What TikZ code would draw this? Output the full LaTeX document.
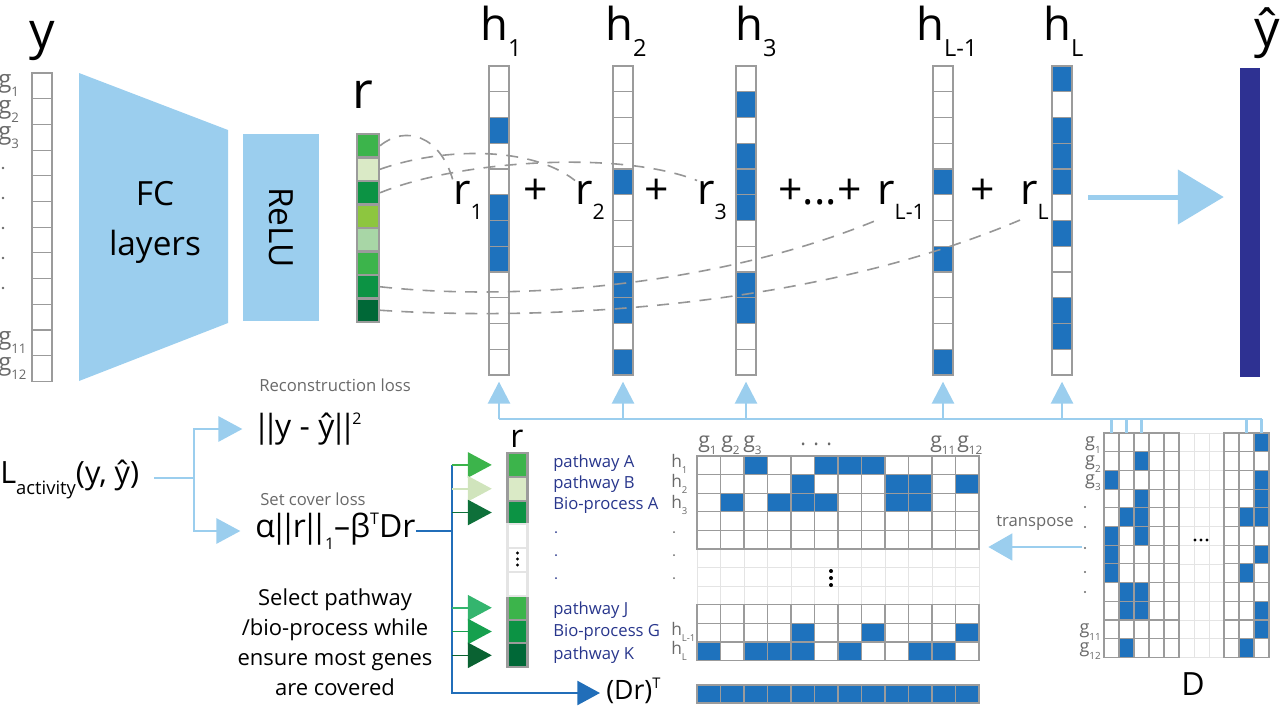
\documentclass[tikz,border=0pt]{standalone}
\usepackage{fontspec}
\usepackage{graphicx}
\setmainfont{Open Sans}
\usetikzlibrary{arrows.meta}

\definecolor{lblue}{RGB}{155,206,238}
\definecolor{cblue}{RGB}{30,114,189}
\definecolor{dblue}{RGB}{33,110,185}
\definecolor{navy}{RGB}{46,49,146}
\definecolor{pnavy}{RGB}{40,54,140}
\definecolor{cgray}{RGB}{155,155,155}
\definecolor{fgray}{RGB}{228,228,228}
\definecolor{tgray}{RGB}{105,105,105}
\definecolor{dgray}{RGB}{150,150,150}
\definecolor{gA}{RGB}{60,180,75}
\definecolor{gB}{RGB}{218,234,198}
\definecolor{gC}{RGB}{12,147,68}
\definecolor{gD}{RGB}{141,198,63}
\definecolor{gE}{RGB}{168,214,166}
\definecolor{gF}{RGB}{0,104,55}
\definecolor{aB}{RGB}{208,228,188}
\definecolor{aC}{RGB}{14,112,58}
\definecolor{aD}{RGB}{52,181,110}
\definecolor{aE}{RGB}{22,160,78}
\definecolor{aF}{RGB}{10,98,50}

\newcommand{\fs}[1]{\fontsize{#1}{#1}\selectfont}
\newcommand{\lsub}[2][0.55]{\raisebox{-0.37em}{\scalebox{#1}{#2}}}
\newcommand{\lsup}[2][0.5]{\raisebox{0.42em}{\scalebox{#1}{#2}}}
\newcommand{\dbar}{\makebox[0.27em]{|}\makebox[0.29em]{|}}
\newcommand{\mcell}[3]{\filldraw[#3] ({697+23.5*(#1-1)},{456+18.6*(#2-1)}) rectangle +(23.5,18.6);}
\newcommand{\dcell}[3]{\filldraw[#3] ({1104+15*(#1-1)},{433+18.7*(#2-1)}) rectangle +(15,18.7);}

\def\hA{3,6,7,8}
\def\hB{5,9,10,12}
\def\hC{2,4,5,6,9,10}
\def\hY{5,8,12}
\def\hZ{1,3,4,5,7,10,11}

\begin{document}
\begin{tikzpicture}[x=0.75pt,y=-0.75pt]
\tikzset{
  cell/.style={draw=cgray,line width=0.8pt,fill=white,minimum width=15pt,minimum height=19.3pt,inner sep=0pt,outer sep=0pt},
  oncell/.style={fill=cblue,draw=cgray,line width=0.8pt},
  offcell/.style={fill=white,draw=cgray,line width=0.8pt},
  faint/.style={fill=white,draw=fgray,line width=0.6pt},
  rcell/.style={draw=cgray,line width=1.6pt,minimum width=16.5pt,minimum height=17.6pt,inner sep=0pt},
  brcell/.style={draw=cgray,line width=1.6pt,minimum width=15pt,minimum height=17.85pt,inner sep=0pt},
  bigl/.style={font=\fs{38},inner sep=0pt},
  hlab/.style={font=\fs{34},inner sep=0pt,anchor=base west},
  rterm/.style={font=\fs{32},inner sep=0pt,anchor=base west},
  glab/.style={font=\fs{18},text=tgray,inner sep=0pt},
  losslab/.style={font=\fs{12.5},text=tgray,inner sep=0pt,anchor=base west},
  pwy/.style={font=\fs{12.5},text=pnavy,inner sep=0pt,anchor=west},
  mixer/.style={dgray,line width=1.2pt,dash pattern=on 9pt off 7pt},
  bus/.style={lblue,line width=2pt},
  lbarrow/.style={lblue,line width=1.5pt,-{Triangle[length=18pt,width=19pt]},shorten >=11pt},
  garrow/.style={line width=1.2pt,-{Triangle[length=18pt,width=19pt]},shorten >=11pt},
  dline/.style={dblue,line width=1.8pt}
}
\useasboundingbox (0,0) rectangle (1280,708);

% input y
\node[bigl,anchor=base] (ylab) at (42,48) {y};
\foreach \k in {1,...,12}
  {\node[cell] (y\k) at (42,{73+25.7*(\k-0.5)}) {};}
\foreach \k/\t in {1/1,2/2,3/3,11/11,12/12}
  {\node[glab,anchor=west] (yg\k) at (-2,{73+25.7*(\k-0.5)}) {g\lsub{\t}};}
\foreach \d in {168,198,228,258,288}
  {\fill[tgray] (3,\d) circle (1.3);}

% encoder
\fill[lblue] (79,73) -- (228,130) -- (228,323) -- (79,381) -- cycle;
\node[font=\fontsize{25}{37.5}\selectfont,align=center] (fc) at (155,222) {FC\\layers};
\node[fill=lblue,rotate=-90,minimum width=140pt,minimum height=57pt,inner sep=0pt,font=\fs{25}] (relu) at (281,227.5) {ReLU};

% r vector
\node[bigl,anchor=base] (rlab) at (363,108) {r};
\foreach \k/\c in {1/gA,2/gB,3/gC,4/gD,5/gE,6/gA,7/gC,8/gF}
  {\node[rcell,fill=\c] (r\k) at (368,{134+23.5*(\k-0.5)}) {};}

% pathway columns h
\foreach \n/\x in {a/499,b/623,c/746,y/943,z/1062}
  {\foreach \k in {1,...,12}
    {\node[cell] (h\n\k) at (\x,{66+25.75*(\k-0.5)}) {};}}
\foreach \k in \hA {\filldraw[oncell] (ha\k.north west) rectangle (ha\k.south east);}
\foreach \k in \hB {\filldraw[oncell] (hb\k.north west) rectangle (hb\k.south east);}
\foreach \k in \hC {\filldraw[oncell] (hc\k.north west) rectangle (hc\k.south east);}
\foreach \k in \hY {\filldraw[oncell] (hy\k.north west) rectangle (hy\k.south east);}
\foreach \k in \hZ {\filldraw[oncell] (hz\k.north west) rectangle (hz\k.south east);}

\node[hlab] (hla) at (480,40) {h\lsub[0.52]{1}};
\node[hlab] (hlb) at (605,40) {h\lsub[0.52]{2}};
\node[hlab] (hlc) at (735,40) {h\lsub[0.52]{3}};
\node[hlab] (hly) at (916,40) {h\lsub[0.52]{L-1}};
\node[hlab] (hlz) at (1043,40) {h\lsub[0.52]{L}};

\node[rterm] (t1) at (453,204) {r\lsub[0.5]{1}};
\node[rterm,anchor=base] (p1) at (536,204) {+};
\node[rterm] (t2) at (575,204) {r\lsub[0.5]{2}};
\node[rterm,anchor=base] (p2) at (657,204) {+};
\node[rterm] (t3) at (697,204) {r\lsub[0.5]{3}};
\node[rterm,anchor=base] (p3) at (820,204) {+...+};
\node[rterm] (tY) at (877,204) {r\lsub[0.5]{L-1}};
\node[rterm,anchor=base] (p4) at (983,204) {+};
\node[rterm] (tZ) at (1020,204) {r\lsub[0.5]{L}};

\draw[mixer] (r1.east) .. controls (405,125) and (440,135) .. (t1.north west);
\draw[mixer] (r2.east) .. controls (440,148) and (530,145) .. (t2.north west);
\draw[mixer] (r3.east) .. controls (460,160) and (620,150) .. (t3.north west);
\draw[mixer] (r7.east) .. controls (520,302) and (720,285) .. (tY.south west);
\draw[mixer] (r8.east) .. controls (560,322) and (820,305) .. (tZ.south west);

% output
\node[fill=navy,minimum width=15pt,minimum height=231.75pt,inner sep=0pt] (yhat) at (1250,222.5) {};
\node[bigl,anchor=base west] (yhl) at (1254,46) {ŷ};
\coordinate (sumout) at (1088,197);
\draw[lblue,line width=3.75pt,-{Triangle[length=34.5pt,width=40.5pt]},shorten >=12pt] (sumout) -- (sumout -| yhat.west);

% D matrix
\foreach \c in {6,7,8} {\foreach \r in {1,...,12} {\dcell{\c}{\r}{faint}}}
\foreach \c in {1,2,3,4,5,9,10,11} {\foreach \r in {1,...,12} {\dcell{\c}{\r}{offcell}}}
\foreach \r in \hA {\dcell{1}{\r}{oncell}}
\foreach \r in \hB {\dcell{2}{\r}{oncell}}
\foreach \r in \hC {\dcell{3}{\r}{oncell}}
\foreach \r in \hY {\dcell{10}{\r}{oncell}}
\foreach \r in \hZ {\dcell{11}{\r}{oncell}}
\foreach \px in {1195,1201,1207} {\fill[black] (\px,540) circle (1.6);}
\foreach \k/\t in {1/1,2/2,3/3,11/11,12/12}
  {\node[font=\fs{13.5},text=tgray,inner sep=0pt,anchor=east] (dg\k) at (1101,{433+18.7*(\k-0.5)+3}) {g\lsub{\t}};}
\foreach \d in {507,527,548,572,592}
  {\fill[tgray] (1085,\d) circle (1.1);}
\node[font=\fs{24},anchor=base] (dlab) at (1193,695) {D};
\foreach \c in {1,2,3,10,11}
  {\coordinate (dt\c) at ({1104+15*(\c-0.5)},433);}

% bus to h columns
\coordinate (busL) at (499,419);
\draw[bus] (busL) -- (dt11 |- busL);
\foreach \c in {1,2,3,10,11}
  {\draw[bus] (dt\c |- busL) -- (dt\c);}
\foreach \n in {a,b,c,y,z}
  {\draw[bus,-{Triangle[length=16.5pt,width=16.5pt]},shorten >=5pt] (h\n12.south |- busL) -- (h\n12.south);}

% transposed matrix
\foreach \r in {6,7,8} {\foreach \c in {1,...,12} {\mcell{\c}{\r}{faint}}}
\foreach \r in {1,2,3,4,5,9,10,11} {\foreach \c in {1,...,12} {\mcell{\c}{\r}{offcell}}}
\foreach \c in \hA {\mcell{\c}{1}{oncell}}
\foreach \c in \hB {\mcell{\c}{2}{oncell}}
\foreach \c in \hC {\mcell{\c}{3}{oncell}}
\foreach \c in \hY {\mcell{\c}{10}{oncell}}
\foreach \c in \hZ {\mcell{\c}{11}{oncell}}
\foreach \py in {571,578,585} {\fill[black] (831,\py) circle (2);}
\foreach \c in {1,...,12}
  {\filldraw[oncell] ({697+23.5*(\c-1)},685) rectangle +(23.5,18);}

\foreach \n/\px/\t in {1/698/1,2/721/2,3/743/3,11/930/11,12/957/12}
  {\node[font=\fs{16},text=tgray,inner sep=0pt,anchor=base west] (mg\n) at (\px,447) {g\lsub{\t}};}
\node[font=\fs{16},text=tgray,inner sep=0pt,anchor=base west] (mgd) at (800,445) {. . .};
\foreach \n/\py/\t in {1/464/1,2/484/2,3/505/3,y/632/{L-1},z/651/L}
  {\node[font=\fs{13},text=tgray,inner sep=0pt,anchor=west] (mh\n) at (671,\py) {h\lsub{\t}};}
\foreach \d in {532,555,578}
  {\fill[tgray] (674,\d) circle (1);}

\coordinate (mright) at (979,547);
\coordinate (tfrom) at (1082,547);
\draw[lblue,line width=2.2pt,-{Triangle[length=18pt,width=20pt]},shorten >=7pt] (tfrom) -- (mright);
\node[font=\fs{12.5},text=tgray,inner sep=0pt] (tr) at (1035,523) {transpose};

% losses
\node[font=\fs{23},inner sep=0pt,anchor=base west] (lact) at (0,483) {L\lsub[0.6]{activity}(y, ŷ)};
\coordinate (split) at (194,478);
\node[losslab] (recl) at (259,391) {Reconstruction loss};
\node[font=\fs{24},inner sep=0pt,anchor=west] (recf) at (257,429) {\dbar y - ŷ\dbar\lsup{2}};
\node[losslab] (setl) at (260,505) {Set cover loss};
\node[font=\fs{24},inner sep=0pt,anchor=west] (setf) at (255,531) {α\dbar r\dbar\kern0.04em\lsub[0.5]{1}–β\lsup{T}Dr};
\draw[lblue,line width=1.5pt,shorten <=11pt] (lact.east |- split) -- (split);
\draw[lbarrow] (split) |- (recf.west);
\draw[lbarrow] (split) |- (setf.west);
\node[font=\fontsize{16.5}{22.5}\selectfont,align=center] (sel) at (335,642) {Select pathway\\/bio-process while\\ensure most genes\\are covered};

% selected r
\node[font=\fs{24},inner sep=0pt,anchor=base] (brl) at (517,447) {r};
\foreach \k/\c in {1/gA,2/gB,3/gC,7/gA,8/gC,9/gF}
  {\node[brcell,fill=\c] (br\k) at (517.5,{453+23.8*(\k-0.5)}) {};}
\foreach \k in {4,5,6}
  {\node[brcell,draw=fgray,fill=white] (br\k) at (517.5,{453+23.8*(\k-0.5)}) {};}
\foreach \py in {553,559,565} {\fill[black] (517.5,\py) circle (1.6);}

\node[pwy] (pa) at (553,463) {pathway A};
\node[pwy] (pb) at (553,484) {pathway B};
\node[pwy] (pc) at (553,505) {Bio-process A};
\foreach \d in {532,555,578}
  {\fill[pnavy] (556,\d) circle (1);}
\node[pwy] (pj) at (553,610) {pathway J};
\node[pwy] (pg) at (553,632) {Bio-process G};
\node[pwy] (pk) at (553,655) {pathway K};

\coordinate (vtop) at (452,465);
\coordinate (vbot) at (452,693);
\node[font=\fs{20},inner sep=0pt,anchor=west] (drt) at (606,691) {(Dr)\lsup[0.55]{T}};
\draw[dline] (setf.east) -- (setf.east -| vtop);
\draw[dline,-{Triangle[length=17pt,width=18pt]},shorten >=4.5pt] (vtop) -- (vbot) -- (drt.west |- vbot);
\foreach \k/\c in {1/gA,2/aB,3/aC,7/aD,8/aE,9/aF}
  {\draw[garrow,\c] (vtop |- br\k) -- (br\k.west);}
\end{tikzpicture}
\end{document}
